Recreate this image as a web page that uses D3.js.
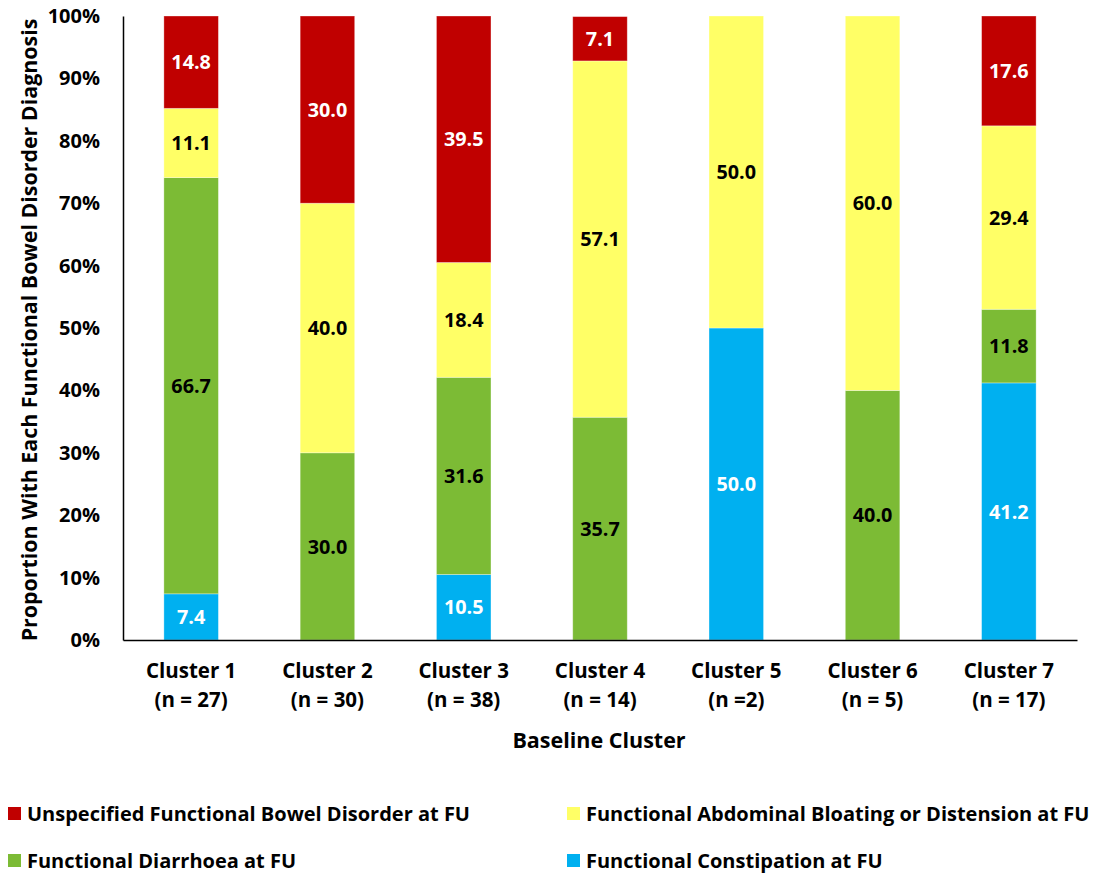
<!DOCTYPE html>
<html><head><meta charset="utf-8">
<script src="https://cdn.jsdelivr.net/npm/d3@7/dist/d3.min.js"></script>
<style>body{margin:0;background:#fff}svg{display:block;font-family:"Open Sans",sans-serif;font-weight:bold}</style>
</head><body><svg id="c" width="1107" height="877"></svg>
<script>
const categories = ["Cluster 1","Cluster 2","Cluster 3","Cluster 4","Cluster 5","Cluster 6","Cluster 7"];
const nLabels = ["(n = 27)","(n = 30)","(n = 38)","(n = 14)","(n =2)","(n = 5)","(n = 17)"];
const seriesNames = ["Functional Constipation at FU","Functional Diarrhoea at FU","Functional Abdominal Bloating or Distension at FU","Unspecified Functional Bowel Disorder at FU"];
const constipation = [7.4, 0, 10.5, 0, 50.0, 0, 41.2];
const diarrhoea    = [66.7, 30.0, 31.6, 35.7, 0, 40.0, 11.8];
const bloating     = [11.1, 40.0, 18.4, 57.1, 50.0, 60.0, 29.4];
const unspecified  = [14.8, 30.0, 39.5, 7.1, 0, 0, 17.6];
const yTicks = [0,10,20,30,40,50,60,70,80,90,100];

const colors = ["#00B0F0","#7CBB35","#FFFF66","#C00000"];
const labelColors = ["#fff","#000","#000","#fff"];
const seriesVals = [constipation, diarrhoea, bloating, unspecified];
const FONT = "'Open Sans', sans-serif";

const svg = d3.select("#c");
const m = {l:123, r:1077, t:16, b:640};
const x = d3.scaleBand().domain(categories).range([m.l, m.r]).paddingInner(0.6).paddingOuter(0.3);
const y = d3.scaleLinear().domain([0,100]).range([m.b, m.t]);

const rows = categories.map((c,i)=>{const o={cat:c}; seriesNames.forEach((s,k)=>o[s]=seriesVals[k][i]); return o;});
const stack = d3.stack().keys(seriesNames)(rows);

stack.forEach((layer,k)=>{
  const g = svg.append("g");
  g.selectAll("rect").data(layer).join("rect")
    .attr("x", d=>x(d.data.cat)).attr("width", x.bandwidth())
    .attr("y", d=>y(Math.min(d[1],100))).attr("height", d=>Math.max(0, y(d[0])-y(Math.min(d[1],100))))
    .attr("fill", colors[k]).attr("stroke","#fff").attr("stroke-opacity",0.4).attr("stroke-width",0.8);
  g.selectAll("text").data(layer.filter(d=>d.data[seriesNames[k]]>0)).join("text")
    .attr("x", d=>x(d.data.cat)+x.bandwidth()/2)
    .attr("y", d=>y((d[0]+Math.min(d[1],100))/2))
    .attr("dy","0.36em").attr("text-anchor","middle")
    .attr("font-size",19.8).attr("fill",labelColors[k])
    .text(d=>d.data[seriesNames[k]].toFixed(1));
});

// axes
const ya = svg.append("g").attr("transform",`translate(${m.l},0)`)
  .call(d3.axisLeft(y).tickValues(yTicks).tickFormat(d=>d+"%").tickSize(0).tickPadding(23));
ya.select(".domain").attr("stroke","#000").attr("stroke-width",1.5);
ya.selectAll("text").attr("font-size",20).attr("font-family",FONT).attr("font-weight","bold").attr("fill","#000");

const xa = svg.append("g").attr("transform",`translate(0,${m.b})`)
  .call(d3.axisBottom(x).tickSize(0).tickFormat(()=>""));
xa.select(".domain").attr("stroke","#000").attr("stroke-width",1.5);
xa.selectAll(".tick").each(function(d,i){
  const t = d3.select(this).append("text").attr("fill","#000").attr("font-size",20.5)
    .attr("font-family",FONT).attr("font-weight","bold").attr("text-anchor","middle");
  t.append("tspan").attr("x",0).attr("y",38).text(d);
  t.append("tspan").attr("x",0).attr("y",67).text(nLabels[i]);
});

svg.append("text").attr("x",(m.l+m.r)/2 - 1).attr("y",748).attr("text-anchor","middle")
  .attr("font-size",21.5).text("Baseline Cluster");
svg.append("text").attr("transform",`translate(37,330) rotate(-90)`).attr("text-anchor","middle")
  .attr("font-size",21.4).text("Proportion With Each Functional Bowel Disorder Diagnosis");

// legend
const legendItems = [
  {k:3, x:8, y:814},
  {k:2, x:567, y:814},
  {k:1, x:8, y:861},
  {k:0, x:567, y:861}
];
legendItems.forEach(it=>{
  svg.append("rect").attr("x",it.x).attr("y",it.y-7).attr("width",13).attr("height",13).attr("fill",colors[it.k]);
  svg.append("text").attr("x",it.x+19).attr("y",it.y).attr("dy","0.36em").attr("font-size",20).text(seriesNames[it.k]);
});
</script></body></html>
